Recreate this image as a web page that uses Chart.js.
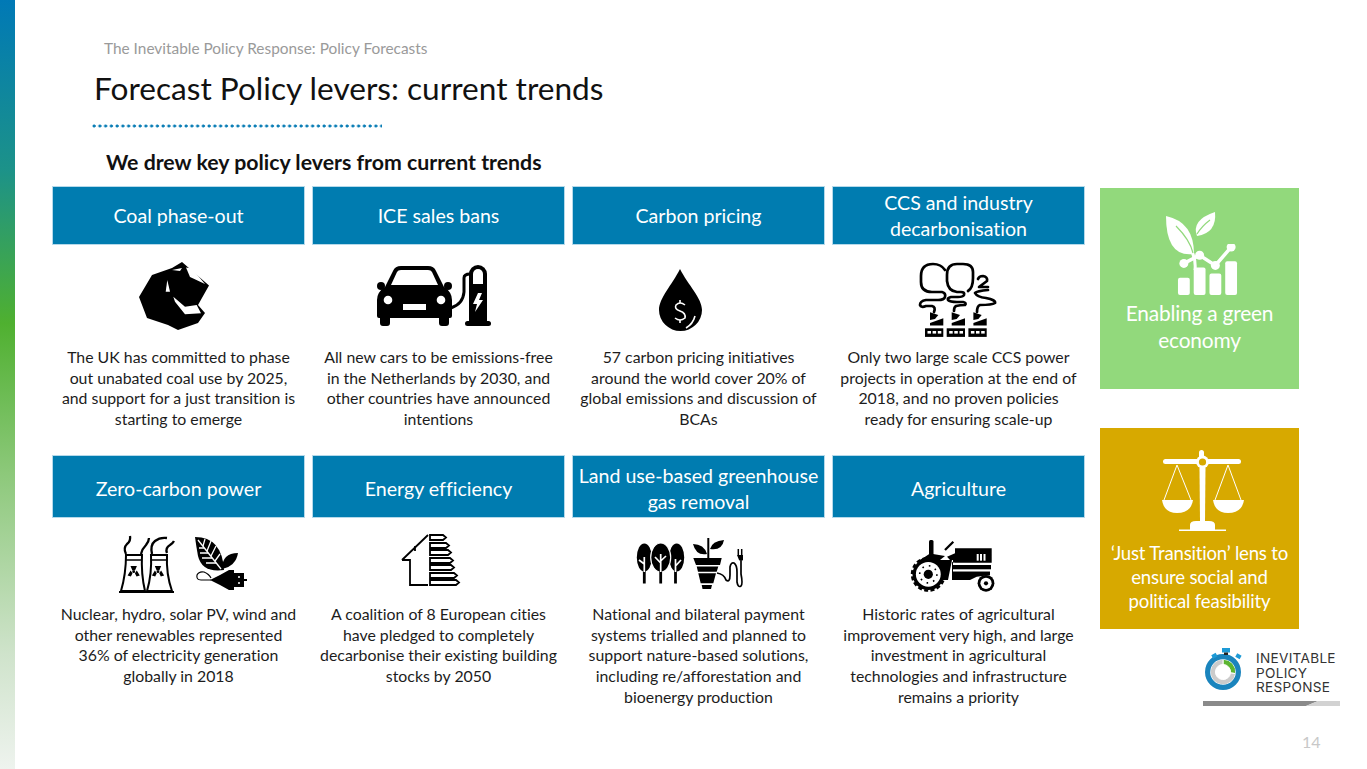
<!DOCTYPE html>
<html>
<head>
<meta charset="utf-8">
<title>Forecast Policy levers</title>
<script src="https://cdn.jsdelivr.net/npm/chart.js@4"></script>
<style>
  html, body { margin: 0; padding: 0; background: #fff; }
  body { width: 1367px; height: 769px; position: relative; overflow: hidden; font-family: Lato, sans-serif; color: #1c1c1c; font-variant-ligatures: none; }
  .abs { position: absolute; white-space: nowrap; }
  #sidebar { left: 0; top: 0; width: 15px; height: 769px;
    background: linear-gradient(to bottom, #0079b6 0%, #1c9289 22%, #4fb030 42%, #8ec97c 62%, #cfe3cb 85%, #eef3ee 100%); }
  #dots { left: 92px; top: 124px; width: 290px; height: 4px;
    background: radial-gradient(circle at 2px 2px, #0a7db5 1.4px, transparent 1.7px) 0 0 / 5.76px 4px repeat-x; }
  .lever { position: absolute; width: 251px; background: #007cb0; outline: 1px solid #b5d9ea; color: #fff;
    display: flex; align-items: center; justify-content: center; text-align: center; font-size: 19.6px; line-height: 26px; box-sizing: border-box; }
  .desc { position: absolute; width: 260px; text-align: center; font-size: 15.85px; line-height: 20.6px; white-space: nowrap; }
  .side { position: absolute; left: 1100px; width: 199px; outline: 1px solid rgba(255,255,255,.5); }
  .sidetext { position: absolute; left: 1100px; width: 199px; text-align: center; color: #fff; white-space: nowrap; }
  canvas { position: absolute; }
  #art { position: absolute; left: 0; top: 0; }
</style>
</head>
<body>
<div class="abs" id="sidebar"></div>
<div class="abs" style="left:104px;top:39px;font-size:15.4px;line-height:18px;color:#9a9a9a">The Inevitable Policy Response: Policy Forecasts</div>
<div class="abs" style="left:94px;top:69px;font-size:31.6px;line-height:38px;color:#111">Forecast Policy levers: current trends</div>
<div class="abs" id="dots"></div>
<div class="abs" style="left:106px;top:149px;font-size:21.3px;line-height:26px;font-weight:700;color:#111">We drew key policy levers from current trends</div>

<div id="levers"></div>

<div class="side" style="top:188px;height:201px;background:#92d97c"></div>
<div class="side" style="top:428px;height:201px;background:#d7a900"></div>
<canvas id="growthChart" width="63" height="51" style="left:1176px;top:244px;width:63px;height:51px"></canvas>
<div class="sidetext" style="top:298.5px;font-size:20.9px;line-height:27px;letter-spacing:-.2px">Enabling a green<br>economy</div>
<div class="sidetext" style="top:541px;font-size:18.6px;line-height:24px;letter-spacing:-.2px">‘Just Transition’ lens to<br>ensure social and<br>political feasibility</div>

<canvas id="ringChart" width="36" height="36" style="left:1205px;top:654px;width:36px;height:36px"></canvas>
<div class="abs" style="left:1256px;top:651px;font-family:Inter,sans-serif;font-size:13.6px;letter-spacing:.3px;line-height:14.5px;color:#333">INEVITABLE<br>POLICY<br>RESPONSE</div>
<div class="abs" style="left:1302px;top:732px;font-size:16px;line-height:20px;color:#c8c8c8">14</div>

<svg id="art" width="1367" height="769" viewBox="0 0 1367 769">
  <!-- coal -->
  <polygon points="182,262 209,285.5 198,305 205,313 198,323 178,330 168,325 147,318 139,297 152,275 172,268"/>
  <g fill="#fff">
    <polygon points="172,270 182,268 180,271"/>
    <polygon points="186,267.5 192,268.5 205,284 190,277"/>
    <polygon points="167.3,280 170,291.7 165.7,291.7"/>
    <polygon points="173.3,296.7 185,306.7 196.7,305 201,313.3 185,314.3 175,301.7"/>
  </g>
  <!-- car and charger -->
  <path d="M385 287 L393 271 Q395 266 401 266 H428 Q434 266 436 271 L444 287 Q452 292 452 300 V316 Q452 318 450 318 H449 V323 Q449 326 446 326 H442 Q439 326 439 323 V318 H390 V323 Q390 326 387 326 H383 Q380 326 380 323 V318 H379 Q377 318 377 316 V300 Q377 292 385 287Z"/>
  <circle cx="381" cy="286" r="4"/><circle cx="448" cy="286" r="4"/>
  <g fill="#fff">
    <path d="M391 285 L397 272 Q398 270 401 270 H428 Q431 270 432 272 L438 285Z"/>
    <circle cx="388" cy="300" r="4.3"/><circle cx="441" cy="300" r="4.3"/>
    <rect x="403" y="304" width="23" height="6"/>
  </g>
  <path d="M469 322 V274 A9 9 0 0 1 487 274 V322Z"/>
  <rect x="465" y="321" width="26" height="5" rx="2.5"/>
  <path d="M473 284 V274 A5 5 0 0 1 483 274 V284Z" fill="#fff"/>
  <polygon points="478,293 473,304 477,304 475,312 483,300 479,300 482,293" fill="#fff"/>
  <path d="M451 308 Q463 304 464 292 V278 Q464 274 470 274" fill="none" stroke="#000" stroke-width="3"/>
  <!-- drop -->
  <path d="M680 269 C672 285 659 298 659 310 A21.5 21 0 0 0 702 310 C702 298 688 285 680 269Z"/>
  <g fill="none" stroke="#fff" stroke-width="1.6">
    <path d="M685 305 Q680 301 676 305 Q674 309 680 311 Q686 313 685 318 Q680 322 675 318"/>
    <path d="M680 300 V303 M680 320 V323 M695 316 Q693 324 686 328"/>
  </g>
  <!-- co2 -->
  <g fill="none" stroke="#000" stroke-width="2.7" stroke-linecap="round" stroke-linejoin="round">
    <path d="M945 270 Q941 264 933 264 Q921 264 921 276 V282 Q921 292 932 292 H942 Q946 293 945 297 Q944 300 938 300 H926 Q920 301 920 305 Q921 308 926 306 H932 Q936 307 934 312"/>
    <path d="M968 291 Q973 288 973 278 V272 Q973 264 963 264 H957 Q947 264 947 275 V281 Q948 291 957 292 H961 Q965 292 964 295 Q963 297 958 297 H951 Q947 298 948 300 Q950 302 957 302 H963 Q967 303 965 305 Q960 305 956 306 Q954 307 954 311"/>
    <path d="M978 279 Q979 276 983 276 Q988 277 987 281 L979 287 H988 M988 290 Q977 291 975 293 Q977 297 986 298 Q996 300 995 303 Q992 305 980 305 Q977 306 977 312"/>
  </g>
  <g id="plant0">
    <polygon points="930,312.3 938.3,315 935,319 930,320"/>
    <polygon points="930,323 943.3,318.3 943.3,325.5 930,325.5"/>
    <rect x="925" y="328.3" width="18.3" height="8.6"/>
    <rect x="927.5" y="331" width="3.5" height="2.6" fill="#fff"/><rect x="932.6" y="331" width="3.5" height="2.6" fill="#fff"/><rect x="937.8" y="331" width="3.5" height="2.6" fill="#fff"/>
  </g>
  <use href="#plant0" x="21.7"/><use href="#plant0" x="43.4"/>
  <!-- nuclear towers -->
  <g fill="#fff" stroke="#000" stroke-width="2">
    <path d="M126 555 H142 Q141 574 145 591 H121 Q126 574 126 555Z"/>
    <path d="M151 555 H167 Q166 574 172 591 H147 Q152 574 151 555Z"/>
  </g>
  <path d="M119 592 H174" stroke="#000" stroke-width="2"/>
  <path d="M126 560 H142 M151 560 H167" stroke="#000" stroke-width="1.5"/>
  <g fill="none" stroke="#000" stroke-width="2.3">
    <path d="M126 554 Q123 548 127 544 Q131 541 130 536 M141 554 Q142 549 146 545 Q149 541 149 538 M152 554 Q150 545 155 541 Q160 537 167 538 M167 553 Q165 548 170 545 Q173 543 174 541"/>
  </g>
  <g>
    <circle cx="133.7" cy="571.7" r="1.4"/>
    <path d="M130.5 566 H136.9 L135 570.4 H132.4Z M127.6 575.5 L130.6 570.4 L132.5 573.2 L130.9 576.6Z M139.8 575.5 L136.8 570.4 L134.9 573.2 L136.5 576.6Z"/>
    <circle cx="158" cy="571.7" r="1.4"/>
    <path d="M154.8 566 H161.2 L159.3 570.4 H156.7Z M151.9 575.5 L154.9 570.4 L156.8 573.2 L155.2 576.6Z M164.1 575.5 L161.1 570.4 L159.2 573.2 L160.8 576.6Z"/>
  </g>
  <!-- leaves and plug -->
  <path d="M195 537 Q222 537 224 570 Q202 573 198 556 Q196 545 195 537Z"/>
  <g stroke="#fff" stroke-width="1.3" fill="none">
    <path d="M198 540 L221 569"/>
    <path d="M204 548 H199 M208 553 H200 M212 558 H202 M216 563 H206 M203 546 L205 539 M207 551 L211 541 M211 556 L216 546 M215 561 L220 554"/>
  </g>
  <path d="M222 569 Q222 553 238 553 Q236 566 222 569Z"/>
  <path d="M211 580 H201 Q196 580 197 575 Q199 571 204 572 Q209 574 211 578" fill="none" stroke="#000" stroke-width="1.2"/>
  <path d="M210 580 L220 575 L229 570 H234 V590 H229 L220 585Z"/>
  <rect x="234" y="573" width="10" height="14"/>
  <path d="M244 580 H247" stroke="#000" stroke-width="2"/>
  <circle cx="239" cy="577" r="1" fill="#fff"/><circle cx="239" cy="583" r="1" fill="#fff"/>
  <!-- house with efficiency bands -->
  <path d="M402 560 L428 535 M415 546 V551 M402 560 H410 V585 H428" fill="none" stroke="#000" stroke-width="1.8"/>
  <g fill="#fff" stroke="#000" stroke-width="1.8">
    <path d="M430 535 H443 L446 537.5 L443 540 H430Z"/>
    <path d="M430 543 H446 L449 545.5 L446 548 H430Z"/>
    <path d="M430 550 H448 L451 552.5 L448 555 H430Z"/>
    <path d="M430 558 H450 L453 560.5 L450 563 H430Z"/>
    <path d="M430 565 H451 L454 567.5 L451 570 H430Z"/>
    <path d="M430 573 H454 L457 575.5 L454 578 H430Z"/>
    <path d="M430 580 H456 L459 582.5 L456 585 H430Z"/>
  </g>
  <!-- trees -->
  <ellipse cx="644.3" cy="557.5" rx="7.5" ry="14"/><ellipse cx="676.7" cy="557.5" rx="7.5" ry="14"/>
  <ellipse cx="660.7" cy="557.5" rx="10" ry="14.5" stroke="#fff" stroke-width="1.2"/>
  <path d="M644.3 562 V583.5 M660.7 562 V583.5 M675.5 562 V583.5" stroke="#000" stroke-width="2.8"/>
  <path d="M644.3 572 V557 M644.3 564 L639 560 M660.7 572 V554 M660.7 563 L655 557 M660.7 561 L666 556 M675.5 572 V559 M675.5 566 L681 560" stroke="#fff" stroke-width="1.7" fill="none"/>
  <!-- pot and plug -->
  <path d="M708.3 538 V558" stroke="#000" stroke-width="2"/>
  <path d="M693 544 Q704 544 707 554 Q696 556 693 544Z M724 540 Q722 551 710 549 Q712 541 724 540Z"/>
  <path d="M693.3 558 H721.7 L720 565 H696Z M696.7 566.5 H718.3 L716.7 571.7 H698Z M698.3 573.3 H716 L713.3 583.3 H700.7Z M701.7 585 H712 L711 589 H702.5Z"/>
  <path d="M717 573 Q724 574 726 580 Q730 583 730 575 V567 Q731 562 734 563 Q737 565 737 572 V582 Q738 588 741 586 Q743 584 741 574 V561" fill="none" stroke="#000" stroke-width="1.7"/>
  <path d="M737 555 H743 V560 Q741 562 739 560Z"/>
  <path d="M738.3 555 V549 M741.7 555 V549" stroke="#000" stroke-width="1.5"/>
  <!-- tractor -->
  <rect x="929" y="540" width="4.5" height="16" rx="1.5"/>
  <path d="M945 550 L953.3 541.7" stroke="#000" stroke-width="2.3"/>
  <path d="M930 553.5 L945 556 L940 560 H952 L948 580 L970 580 L976.7 576.7 L990 575 V571.7 L953 571.7 V560 H950 L947 556.7 L955 553.3 V548.3 H991.7 V562.7 H955 L952 562 V580 H935 Q934 562 918 561 Q925 557 930 553.5Z"/>
  <rect x="953" y="565" width="38" height="4.3"/>
  <rect x="953" y="571.7" width="37" height="3.5"/>
  <rect x="976.7" y="554" width="2" height="6.7" fill="#fff"/><rect x="980" y="554" width="2" height="6.7" fill="#fff"/><rect x="983.5" y="554" width="2" height="6.7" fill="#fff"/>
  <circle cx="928.3" cy="574.3" r="15.8"/>
  <circle cx="928.3" cy="574.3" r="16.3" fill="none" stroke="#000" stroke-width="2.4" stroke-dasharray="4 2.4"/>
  <circle cx="928.3" cy="574.3" r="12.4" fill="#fff"/>
  <circle cx="928.3" cy="574.3" r="4.6"/>
  <circle cx="928.3" cy="574.3" r="8.6" fill="none" stroke="#000" stroke-width="1.6" stroke-dasharray="1.6 5.2"/>
  <circle cx="986" cy="583.3" r="8.4"/><circle cx="986" cy="583.3" r="5.6" fill="#fff"/><circle cx="986" cy="583.3" r="2.1"/>
  <!-- leaf icon on the green card -->
  <g fill="#fff">
    <path d="M1166 216 Q1194 222 1194 254 Q1166 258 1166 216Z"/>
    <path d="M1215 212 Q1217 233 1197 236 Q1191 220 1215 212Z"/>
    <path d="M1192 252 Q1196 260 1195 270" stroke="#fff" stroke-width="3" fill="none"/>
  </g>
  <path d="M1176 226 Q1190 240 1193 253 M1210 220 Q1202 226 1197 234" stroke="#92d97c" stroke-width="1.2" fill="none"/>
  <!-- scales on the gold card -->
  <g fill="#fff">
    <rect x="1163" y="459" width="78" height="5" rx="2.5"/>
    <rect x="1199" y="450" width="5" height="12" rx="2.5"/>
    <circle cx="1202.5" cy="462" r="6.5"/>
    <path d="M1199.5 468 H1205.5 L1205 521 H1200Z"/>
    <path d="M1190 525 Q1190 521 1196 521 H1209 Q1215 521 1215 525 V530 H1190Z"/>
    <rect x="1179" y="529.5" width="47" height="1.5"/>
    <path d="M1162 500 H1193 Q1191 513 1177 513 Q1164 513 1162 500Z"/>
    <path d="M1213 500 H1244 Q1242 513 1228 513 Q1215 513 1213 500Z"/>
  </g>
  <circle cx="1202.5" cy="462" r="3.6" fill="#d7a900"/>
  <path d="M1177 465 L1164 500 M1177 465 L1191 500 M1228 465 L1215 500 M1228 465 L1241 500" stroke="#fff" stroke-width="1" fill="none"/>
  <!-- stopwatch crown and logo rule -->
  <rect x="1222" y="648" width="8" height="4.5" fill="#1d9ad6"/>
  <rect x="1224" y="652.5" width="4" height="2.5" fill="#222"/>
  <rect x="1212" y="654" width="5" height="4" fill="#1d9ad6" transform="rotate(-30 1214 656)"/>
  <rect x="1236" y="654" width="5" height="4" fill="#1d9ad6" transform="rotate(30 1238 656)"/>
  <polygon points="1203,701 1318,701 1306,706 1203,706" fill="#8a8a8a"/>
  <polygon points="1318,701 1340,701 1340,706 1306,706" fill="#d2d2d2"/>
</svg>

<script>
// заголовки и тексты карточек
const leverTitles = [
  'Coal phase-out', 'ICE sales bans', 'Carbon pricing', 'CCS and industry<br>decarbonisation',
  'Zero-carbon power', 'Energy efficiency', 'Land use-based greenhouse<br>gas removal', 'Agriculture'
];
const leverTexts = [
  'The UK has committed to phase<br>out unabated coal use by 2025,<br>and support for a just transition is<br>starting to emerge',
  'All new cars to be emissions-free<br>in the Netherlands by 2030, and<br>other countries have announced<br>intentions',
  '57 carbon pricing initiatives<br>around the world cover 20% of<br>global emissions and discussion of<br>BCAs',
  'Only two large scale CCS power<br>projects in operation at the end of<br>2018, and no proven policies<br>ready for ensuring scale-up',
  'Nuclear, hydro, solar PV, wind and<br>other renewables represented<br>36% of electricity generation<br>globally in 2018',
  'A coalition of 8 European cities<br>have pledged to completely<br>decarbonise their existing building<br>stocks by 2050',
  'National and bilateral payment<br>systems trialled and planned to<br>support nature-based solutions,<br>including re/afforestation and<br>bioenergy production',
  'Historic rates of agricultural<br>improvement very high, and large<br>investment in agricultural<br>technologies and infrastructure<br>remains a priority'
];

// значения для значка на зелёной карточке
const growthLabels = ['a', 'b', 'c', 'd'];
const growthBars = [17, 27, 21, 33];
const growthLine = [31, 39, 29, 47];

// значения для кольца в логотипе
const ringOuter = [100];
const ringInner = [27, 73];

const leverColumns = [53, 313, 573, 833];
const container = document.getElementById('levers');

leverTitles.forEach((title, i) => {
  const col = leverColumns[i % 4];
  const lower = i >= 4;
  const box = document.createElement('div');
  box.className = 'lever';
  box.style.left = col + 'px';
  box.style.top = (lower ? 456 : 187) + 'px';
  box.style.height = (lower ? 61 : 57) + 'px';
  if (lower) box.style.paddingTop = '4px';
  box.innerHTML = title;
  container.appendChild(box);

  const text = document.createElement('div');
  text.className = 'desc';
  text.style.left = (col - 4.5) + 'px';
  text.style.top = (lower ? 604.2 : 347.2) + 'px';
  text.innerHTML = leverTexts[i];
  container.appendChild(text);
});

new Chart(document.getElementById('growthChart'), {
  type: 'bar',
  data: {
    labels: growthLabels,
    datasets: [
      {
        type: 'line',
        data: growthLine,
        borderColor: '#fff',
        borderWidth: 3.5,
        pointBackgroundColor: '#fff',
        pointBorderWidth: 0,
        pointRadius: 4.5,
        clip: false,
        tension: 0
      },
      {
        data: growthBars,
        backgroundColor: '#fff',
        borderRadius: 2,
        borderSkipped: false,
        barPercentage: 0.75,
        categoryPercentage: 1
      }
    ]
  },
  options: {
    responsive: false,
    animation: false,
    layout: { padding: 0, autoPadding: false },
    plugins: { legend: { display: false }, tooltip: { enabled: false } },
    scales: {
      x: { display: false },
      y: { display: false, min: 0, max: 50 }
    }
  }
});

new Chart(document.getElementById('ringChart'), {
  type: 'doughnut',
  data: {
    datasets: [
      { data: ringOuter, backgroundColor: ['#1a84bd'], borderWidth: 0 },
      { data: ringInner, backgroundColor: ['#5cb531', '#cbcbcb'], borderWidth: 1, borderColor: '#fff' }
    ]
  },
  options: {
    responsive: false,
    animation: false,
    cutout: '42%',
    plugins: { legend: { display: false }, tooltip: { enabled: false } }
  }
});
</script>
</body>
</html>
